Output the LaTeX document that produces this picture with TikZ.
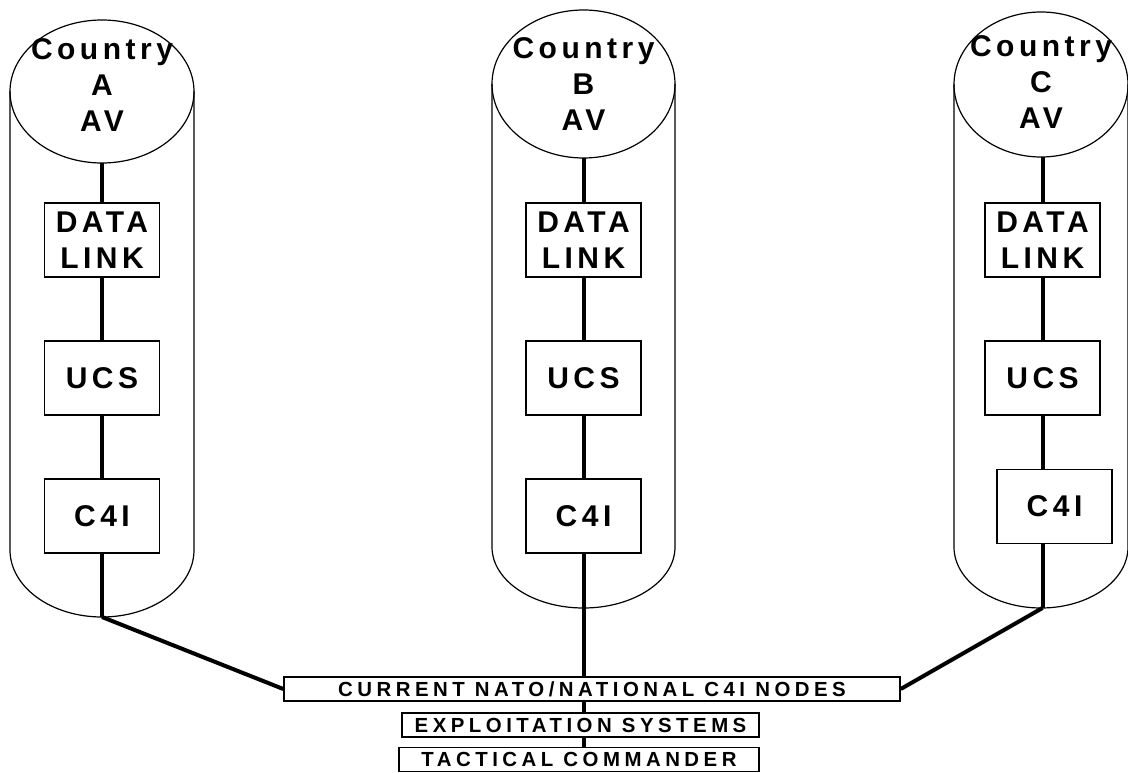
\documentclass[tikz,border=0pt]{standalone}
\usepackage{fontspec}
\setmainfont{Liberation Sans}[LetterSpace=15]
\usepackage{tikz}
\usetikzlibrary{shapes.geometric, calc}

\begin{document}
\begin{tikzpicture}[
    x=0.75pt, y=0.75pt,
    avnode/.style={ellipse, draw, line width=0.9pt, inner sep=0pt, outer sep=0pt},
    avlabel/.style={align=center, inner sep=0pt, font=\fontsize{22.5}{27}\selectfont\bfseries},
    unitnode/.style={rectangle, draw, line width=1.1pt, minimum width=86.25pt, minimum height=55.5pt, inner sep=0pt, align=center, font=\fontsize{22.5}{27}\selectfont\bfseries},
    c2node/.style={rectangle, draw, line width=1.1pt, minimum height=18pt, inner sep=0pt, font=\fontsize{15.3}{17}\selectfont\bfseries\addfontfeature{LetterSpace=22}},
    cyl/.style={line width=0.9pt},
    link/.style={line width=3pt}
]
    \useasboundingbox (0,0) rectangle (1128,772);

    % Nodes
    \node[avnode, minimum width=138pt, minimum height=107.25pt, label={[avlabel, yshift=5pt]center:Country\\A\\AV}] (avA) at (102, 680.5) {};
    \node[unitnode] (dlA) at (102, 532) {DATA\\LINK};
    \node[unitnode] (ucsA) at (102, 394) {UCS};
    \node[unitnode] (c4iA) at (102, 256) {C4I};
    \coordinate (botA) at (102, 155);

    \node[avnode, minimum width=137.25pt, minimum height=111pt, label={[avlabel]center:Country\\B\\AV}] (avB) at (583.5, 688) {};
    \node[unitnode] (dlB) at (583.5, 532) {DATA\\LINK};
    \node[unitnode] (ucsB) at (583.5, 394) {UCS};
    \node[unitnode] (c4iB) at (583.5, 256) {C4I};

    \node[avnode, minimum width=130.5pt, minimum height=108.75pt, label={[avlabel, yshift=2pt]center:Country\\C\\AV}] (avC) at (1041, 687.5) {};
    \node[unitnode] (dlC) at (1042.5, 532) {DATA\\LINK};
    \node[unitnode] (ucsC) at (1042.5, 394) {UCS};
    \node[unitnode] (c4iC) at (1054.5, 265.5) {C4I};
    \coordinate (botC) at (1042.5, 164);

    \node[c2node, minimum width=462pt] (nato) at (592, 83) {CURRENT NATO/NATIONAL C4I NODES};
    \node[c2node, minimum width=267.75pt] (expl) at (580.5, 47) {EXPLOITATION SYSTEMS};
    \node[c2node, minimum width=270pt] (tact) at (579, 12.5) {TACTICAL COMMANDER};

    % Cylinders
    \draw[cyl] (avA.west) -- ++(0,-458.5) arc[start angle=180, end angle=360, x radius=92, y radius=67] -- (avA.east);
    \draw[cyl] (avB.west) -- ++(0,-463) arc[start angle=180, end angle=360, x radius=91.5, y radius=61] -- (avB.east);
    \draw[cyl] (avC.west) -- ++(0,-462.5) arc[start angle=180, end angle=360, x radius=87, y radius=61] -- (avC.east);

    % Edges
    \draw[link] (avA) -- (dlA);
    \draw[link] (dlA) -- (ucsA);
    \draw[link] (ucsA) -- (c4iA);
    \draw[link] (c4iA) -- (botA);
    \draw[link] (botA) -- (nato.west);

    \draw[link] (avB) -- (dlB);
    \draw[link] (dlB) -- (ucsB);
    \draw[link] (ucsB) -- (c4iB);
    \draw[link] (c4iB.south) -- (c4iB.south |- nato.north);

    \draw[link] (avC.south -| dlC) -- (dlC);
    \draw[link] (dlC) -- (ucsC);
    \draw[link] (ucsC.south) -- (ucsC.south |- c4iC.north);
    \draw[link] (ucsC.south |- c4iC.south) -- (botC);
    \draw[link] (botC) -- (nato.east);

    \draw[link] (nato.south -| c4iB) -- (expl.north -| c4iB);
    \draw[link] (expl.south -| c4iB) -- (tact.north -| c4iB);
\end{tikzpicture}
\end{document}
